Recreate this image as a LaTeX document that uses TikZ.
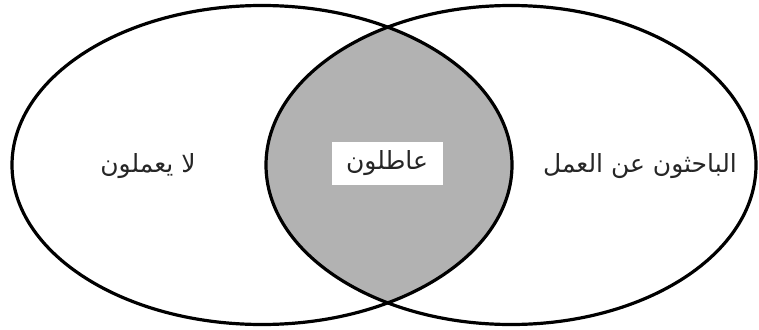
\documentclass[tikz,border=0pt]{standalone}
\usepackage{fontspec}
\newfontfamily\arabicfont[Script=Arabic]{DejaVu Sans}
\TeXXeTstate=1
\usetikzlibrary{shapes.geometric}

\begin{document}
\begin{tikzpicture}[x=1pt, y=-1pt,
  setring/.style={ellipse, draw, line width=3.2pt, inner sep=0pt, minimum height=319pt},
  tag/.style={font=\arabicfont\fontsize{25pt}{29pt}\selectfont, text=black!85}]

  \useasboundingbox (0,0) rectangle (759,329);

  % Shaded overlap
  \begin{scope}
    \clip (262,165) ellipse [x radius=250, y radius=159.5];
    \fill[black!30] (511,165) ellipse [x radius=245, y radius=159.5];
  \end{scope}

  % Sets
  \node[setring, minimum width=500pt] (inactive) at (262,165) {};
  \node[setring, minimum width=490pt] (seekers) at (511,165) {};

  % Labels
  \node[tag] (inactivetxt) at (148,166) {\beginR لا يعملون\endR};
  \node[tag] (seekerstxt) at (640,166) {\beginR الباحثون عن العمل\endR};
  \node[tag, fill=white, minimum width=111pt, minimum height=43pt] (jobless) at (387,163) {\beginR عاطلون\endR};

\end{tikzpicture}
\end{document}
